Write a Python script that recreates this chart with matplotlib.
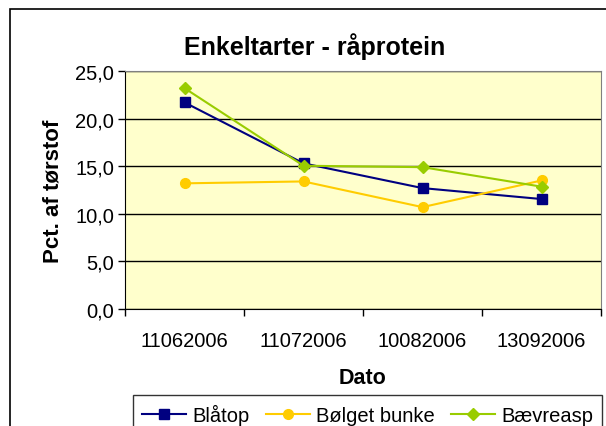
import matplotlib
matplotlib.use("Agg")
import matplotlib.pyplot as plt
from matplotlib.patches import Rectangle
import numpy as np

datoer = ["11062006", "11072006", "10082006", "13092006"]
blaatop = [21.7, 15.3, 12.7, 11.55]
boelget_bunke = [13.2, 13.4, 10.7, 13.5]
baevreasp = [23.2, 15.05, 14.9, 12.85]
yticks = [0, 5, 10, 15, 20, 25]

plt.rcParams['font.family'] = ['Liberation Sans', 'DejaVu Sans']

fig = plt.figure(figsize=(6.06, 4.27), dpi=100)
ax = fig.add_axes([125 / 606, 1 - 310 / 427, 476 / 606, 238 / 427])
ax.set_facecolor('#FFFFCC')

x = np.arange(len(datoer))
ax.plot(x, blaatop, color='#000080', marker='s', markersize=7, lw=1.5, label='Blåtop')
ax.plot(x, boelget_bunke, color='#FFCC00', marker='o', markersize=7, lw=1.5, label='Bølget bunke')
ax.plot(x, baevreasp, color='#99CC00', marker='D', markersize=6, lw=1.5, label='Bævreasp')

ax.set_xlim(-0.5, len(datoer) - 0.5)
ax.set_ylim(0, 25)
ax.set_yticks(yticks)
ax.yaxis.grid(True, color='black', lw=1)
ax.set_axisbelow(True)

ax.set_xticks(x)
ax.set_xticklabels(datoer, fontsize=14.5)
ax.set_xticks(np.arange(-0.5, len(datoer)), minor=True)
ax.tick_params(axis='x', which='major', length=0, pad=16)
ax.tick_params(axis='x', which='minor', length=5, width=1, direction='out')
ax.tick_params(axis='y', length=5, width=1, direction='out', pad=3)

for s in ['top', 'right']:
    ax.spines[s].set_color('#808080')
for s in ['left', 'bottom']:
    ax.spines[s].set_color('black')

ax.set_yticklabels([('%.1f' % v).replace('.', ',') for v in yticks], fontsize=14.5)

fig.text(315 / 606, 1 - 47 / 427, 'Enkeltarter - råprotein', fontsize=18,
         fontweight='bold', ha='center', va='center')
ax.set_ylabel('Pct. af tørstof', fontsize=16, fontweight='bold', labelpad=8)
ax.set_xlabel('Dato', fontsize=15.5, fontweight='bold', labelpad=12)

leg = fig.legend(loc='upper left', bbox_to_anchor=(133 / 606, 1 - 396 / 427), ncol=3,
                 fontsize=14.5, frameon=True, fancybox=False, handlelength=2.2,
                 handletextpad=0.3, columnspacing=0.8, borderpad=0.45,
                 borderaxespad=0)
leg.get_frame().set_edgecolor('black')
leg.get_frame().set_linewidth(1)

fig.patches.append(Rectangle((10 / 606, -0.1), 1.2, 1 - 10 / 427 + 0.1,
                             transform=fig.transFigure, fill=False,
                             edgecolor='black', lw=1.2))

fig.savefig('out.png', dpi=100)
